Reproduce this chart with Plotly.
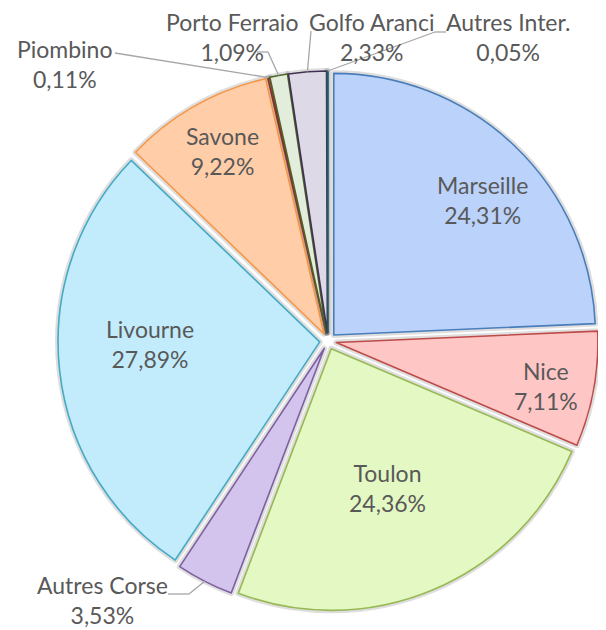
import math
import plotly.graph_objects as go

# ---- data ----
labels = ["Marseille", "Nice", "Toulon", "Autres Corse", "Livourne", "Savone",
          "Piombino", "Porto Ferraio", "Golfo Aranci", "Autres Inter."]
values = [24.31, 7.11, 24.36, 3.53, 27.89, 9.22, 0.11, 1.09, 2.33, 0.05]

# ---- style ----
fills = ["#BBD2FA", "#FFC6C6", "#E4F8C4", "#D3C4EE", "#C2ECFC", "#FFCDA8",
         "#E8B0B0", "#E3EDDB", "#DDD9E6", "#C8E0E8"]
borders = ["#4A7EBB", "#BE4B48", "#98B954", "#7D60A0", "#46AAC5", "#F79646",
           "#8B2D2B", "#4F6228", "#3F3151", "#215968"]
OFF = 8                        # page offset of the plot inside the browser
W, H = 606 - 2 * OFF, 630 - OFF
PULL = 0.032
CX, CY, RR = 328 - OFF, 341 - OFF, 270   # centre and outer extent (px)
dom_x = [(CX - RR) / W, min(1.0, (CX + RR) / W)]
dom_y = [1 - (CY + RR) / H, 1 - (CY - RR) / H]
TXT = "#595959"
FONT = "Lato"
FS = 23

# label centres in reference page px
inside = {
    "Marseille": (482, 200), "Nice": (546, 386), "Toulon": (387, 488),
    "Livourne": (150, 344), "Savone": (223, 151),
}
# outside label centres and leader waypoints (label -> slice)
outside = {
    "Piombino": ((65, 64), [(115, 53)]),
    "Porto Ferraio": ((232, 37), [(257, 52), (268, 52)]),
    "Golfo Aranci": ((371, 37), [(311, 31)]),
    "Autres Inter.": ((508, 37), [(446, 32), (435, 32)]),
    "Autres Corse": ((103, 600), [(168, 594), (189, 594)]),
}

common = dict(labels=labels, values=values, sort=False, direction="clockwise",
              rotation=0, pull=[PULL] * len(values), textinfo="none",
              hoverinfo="skip", domain=dict(x=dom_x, y=dom_y), showlegend=False)

fig = go.Figure()
# soft shadow
fig.add_trace(go.Pie(**common, marker=dict(
    colors=["rgba(0,0,0,0.14)"] * len(values),
    line=dict(color="rgba(0,0,0,0.13)", width=6))))
fig.add_trace(go.Pie(**common, marker=dict(
    colors=fills, line=dict(color=borders, width=1.6))))

# geometry as plotly computes it
bw = W * (dom_x[1] - dom_x[0]); bh = H * (dom_y[1] - dom_y[0])
r = min(bw, bh) / 2 / (1 + PULL)
cx = W * (dom_x[0] + dom_x[1]) / 2
cy = H * (1 - dom_y[0]) - bh / 2

def px2paper(x, y):
    return x / W, 1 - y / H

def ref2paper(x, y):
    return px2paper(x - OFF, y - OFF)

total = sum(values)
cum = 0
annotations, shapes = [], []
for lab, v in zip(labels, values):
    mid = (cum + v / 2) / total * 2 * math.pi
    cum += v
    dx, dy = math.sin(mid), -math.cos(mid)
    txt = f"{lab}<br>" + f"{v:.2f}".replace(".", ",") + "%"
    if lab in inside:
        X, Y = ref2paper(*inside[lab])
    else:
        (lx, ly), way = outside[lab]
        X, Y = ref2paper(lx, ly)
        ex, ey = cx + dx * r * (1 + PULL), cy + dy * r * (1 + PULL)
        pts = [ref2paper(*p) for p in way] + [px2paper(ex, ey)]
        for (a0, b0), (a1, b1) in zip(pts[:-1], pts[1:]):
            shapes.append(dict(type="line", xref="paper", yref="paper",
                               x0=a0, y0=b0, x1=a1, y1=b1,
                               line=dict(color="#A6A6A6", width=1.3)))
    annotations.append(dict(text=txt, x=X, y=Y, xref="paper", yref="paper",
                            showarrow=False, xanchor="center", yanchor="middle",
                            font=dict(family=FONT, size=FS, color=TXT)))

fig.update_layout(width=W, height=H, margin=dict(l=0, r=0, t=0, b=0),
                  paper_bgcolor="white", plot_bgcolor="white",
                  annotations=annotations, shapes=shapes)
fig.write_html("out.html")
